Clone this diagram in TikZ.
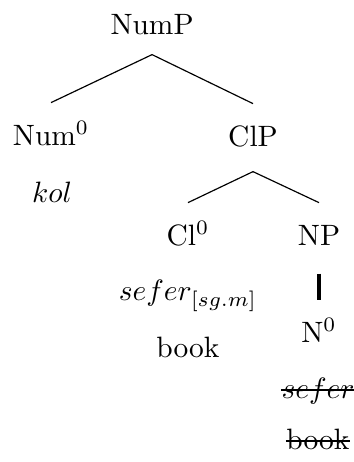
\documentclass[tikz,border=0pt]{standalone}
\usepackage{amsmath}
\usepackage{tikz}

\begin{document}
\begin{tikzpicture}[
                cat/.style={anchor=base, inner sep=0pt, text height=14.2pt, text depth=0pt},
                word/.style={anchor=base, inner sep=0pt},
                branch/.style={line width=0.4pt},
                unary/.style={line width=1.3pt},
                strike/.style={line width=0.4pt}
            ]
                \useasboundingbox (0,0) rectangle (4.214,-5.515);

                \node[cat, text depth=6.8pt] (numP) at (1.815,-0.406) {NumP};

                \node[cat] (num) at (0.609,-1.731) {Num$^0$};
                \node[word] (kol) at (0.621,-2.423) {$kol$};

                \node[cat, text depth=8.5pt] (clP) at (3.020,-1.743) {ClP};

                \node[cat] (cl) at (2.244,-2.925) {Cl$^0$};
                \node[word] (sefer) at (2.244,-3.593) {$sefer_{[sg.m]}$};
                \node[word] (book) at (2.244,-4.262) {book};

                \node[cat, text depth=9.5pt] (np) at (3.808,-2.925) {NP};
                \node[cat] (n) at (3.808,-4.083) {N$^0$};
                \node[word] (seferdel) at (3.796,-4.751) {$sefer$};
                \node[word] (bookdel) at (3.796,-5.360) {book};

                \draw[branch] (numP.south) -- (num.north);
                \draw[branch] (numP.south) -- (clP.north);
                \draw[branch] (clP.south) -- (cl.north);
                \draw[branch] (clP.south) -- (np.north);
                \draw[unary] (np.south) -- (n.north);

                % deleted copy
                \draw[strike] ([yshift=2.7pt]seferdel.base west) -- ([yshift=2.7pt]seferdel.base east);
                \draw[strike] ([yshift=2.7pt]bookdel.base west) -- ([yshift=2.7pt]bookdel.base east);
            \end{tikzpicture}
\end{document}
